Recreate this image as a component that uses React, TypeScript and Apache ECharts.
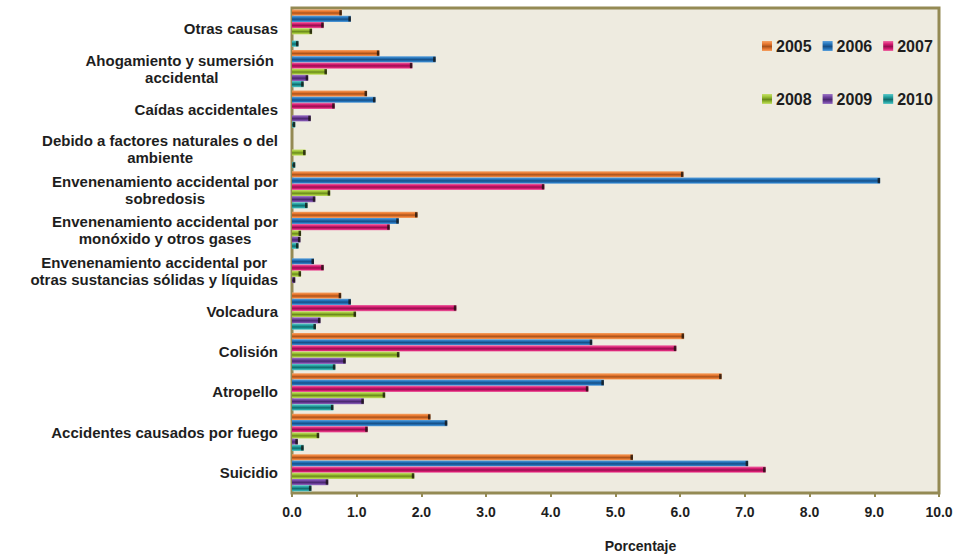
import React, { useEffect, useRef } from "react";
import * as echarts from "echarts";

// Categories listed bottom -> top (ECharts category y axis starts at the bottom)
const categories: string[] = [
  "Suicidio",
  "Accidentes causados por fuego",
  "Atropello",
  "Colisión",
  "Volcadura",
  "Envenenamiento accidental por\notras sustancias sólidas y líquidas",
  "Envenenamiento accidental por\nmonóxido y otros gases",
  "Envenenamiento accidental por\nsobredosis",
  "Debido a factores naturales o del\nambiente",
  "Caídas accidentales",
  "Ahogamiento y sumersión \naccidental",
  "Otras causas",
];

const years: string[] = ["2005", "2006", "2007", "2008", "2009", "2010"];

const values2005: number[] = [5.27, 2.14, 6.64, 6.06, 0.76, 0, 1.94, 6.05, 0, 1.16, 1.35, 0.77];
const values2006: number[] = [7.05, 2.4, 4.82, 4.64, 0.91, 0.34, 1.65, 9.09, 0, 1.29, 2.22, 0.91];
const values2007: number[] = [7.32, 1.17, 4.58, 5.94, 2.54, 0.49, 1.51, 3.9, 0, 0.66, 1.86, 0.49];
const values2008: number[] = [1.89, 0.42, 1.44, 1.66, 0.99, 0.14, 0.14, 0.59, 0.21, 0, 0.54, 0.31];
const values2009: number[] = [0.56, 0.09, 1.11, 0.83, 0.44, 0.05, 0.13, 0.36, 0, 0.29, 0.25, 0];
const values2010: number[] = [0.3, 0.18, 0.64, 0.67, 0.37, 0, 0.1, 0.24, 0.05, 0.05, 0.18, 0.1];

const seriesValues: number[][] = [values2005, values2006, values2007, values2008, values2009, values2010];

// [light, main, dark] per year
const palette: string[][] = [
  ["#F5A366", "#E8772E", "#A9531C"],
  ["#5EA2DC", "#2374BC", "#174F86"],
  ["#EE6FA6", "#D81B72", "#961050"],
  ["#C7E06E", "#9CC232", "#6A8A1C"],
  ["#9E78C6", "#7042A0", "#4A2870"],
  ["#5FCACA", "#21A0A0", "#126C6C"],
];

const xTicks = { min: 0, max: 10, interval: 1 };

const FONT = '"Liberation Sans", Arial, Helvetica, sans-serif';
const TEXT = "#1e1e1e";
const OLIVE = "#948A54";
const CATEGORY_GAP = 0.08;

function barGradient(c: string[]) {
  return new echarts.graphic.LinearGradient(0, 0, 0, 1, [
    { offset: 0, color: c[0] },
    { offset: 0.3, color: c[1] },
    { offset: 0.55, color: c[2] },
    { offset: 0.8, color: c[1] },
    { offset: 1, color: c[0] },
  ]);
}

// end-cap table built from the value arrays: [categoryIndex, value, yearIndex]
const capData: number[][] = [];
seriesValues.forEach((arr, yi) =>
  arr.forEach((v, ci) => {
    if (v > 0) capData.push([ci, v, yi]);
  })
);

export default function App() {
  const ref = useRef<HTMLDivElement>(null);

  useEffect(() => {
    if (!ref.current) return;
    const chart = echarts.init(ref.current, undefined, { renderer: "svg" });

    const legendCommon = {
      orient: "horizontal" as const,
      left: 762,
      itemWidth: 10,
      itemHeight: 10,
      itemGap: 11,
      padding: 0,
      icon: "rect",
      textStyle: { fontFamily: FONT, fontSize: 16, fontWeight: "bold" as const, color: TEXT, padding: [0, 0, 0, -1] },
    };

    const nSeries = years.length;

    chart.setOption({
      animation: false,
      backgroundColor: "#ffffff",
      grid: {
        left: 292,
        right: 39,
        top: 8,
        bottom: 61,
        show: true,
        backgroundColor: "#EEEBE0",
        borderColor: OLIVE,
        borderWidth: 3,
        containLabel: false,
      },
      legend: [
        { ...legendCommon, top: 38, data: years.slice(0, 3) },
        { ...legendCommon, top: 91, data: years.slice(3, 6) },
      ],
      xAxis: {
        type: "value",
        min: xTicks.min,
        max: xTicks.max,
        interval: xTicks.interval,
        axisLine: { show: false },
        axisTick: { show: true, length: 4, lineStyle: { color: OLIVE, width: 2 } },
        splitLine: { show: false },
        axisLabel: {
          formatter: (v: number) => v.toFixed(1),
          fontFamily: FONT,
          fontSize: 14,
          fontWeight: "bold",
          color: TEXT,
          margin: 12,
        },
        name: "Porcentaje",
        nameLocation: "middle",
        nameGap: 46,
        nameTextStyle: {
          fontFamily: FONT,
          fontSize: 14,
          fontWeight: "bold",
          color: TEXT,
          padding: [0, 0, 0, 50],
        },
      },
      yAxis: {
        type: "category",
        data: categories,
        axisLine: { show: false },
        axisTick: { show: false },
        splitLine: { show: false },
        axisLabel: {
          margin: 14,
          align: "right",
          formatter: (v: string) =>
            v
              .split("\n")
              .map((l) => `{c|${l}}`)
              .join("\n"),
          rich: {
            c: {
              align: "center",
              fontFamily: FONT,
              fontSize: 15,
              fontWeight: "bold",
              lineHeight: 17,
              color: TEXT,
            },
          },
        },
      },
      series: [
        ...years.map((y, i) => ({
          name: y,
          type: "bar",
          data: seriesValues[i],
          barCategoryGap: `${CATEGORY_GAP * 100}%`,
          barGap: "0%",
          itemStyle: { color: barGradient(palette[i]) },
          emphasis: { disabled: true },
          z: 2,
        })),
        {
          name: "caps",
          type: "custom",
          data: capData,
          z: 3,
          silent: true,
          encode: { x: 1, y: 0 },
          renderItem: (params: any, api: any) => {
            const ci = api.value(0);
            const v = api.value(1);
            const yi = api.value(2);
            const end = api.coord([v, ci]);
            const band = api.size([0, 1])[1];
            const total = band * (1 - CATEGORY_GAP);
            const bw = total / nSeries;
            const top = end[1] - total / 2 + yi * bw;
            const capW = 2.5;
            return {
              type: "rect",
              shape: { x: end[0] - capW, y: top + 0.5, width: capW, height: bw - 1 },
              style: { fill: "rgba(20,15,10,0.75)" },
            };
          },
        },
      ],
    });

    return () => {
      chart.dispose();
    };
  }, []);

  return (
    <div
      ref={ref}
      style={{ position: "fixed", left: 0, top: 0, width: 978, height: 558 }}
    />
  );
}
